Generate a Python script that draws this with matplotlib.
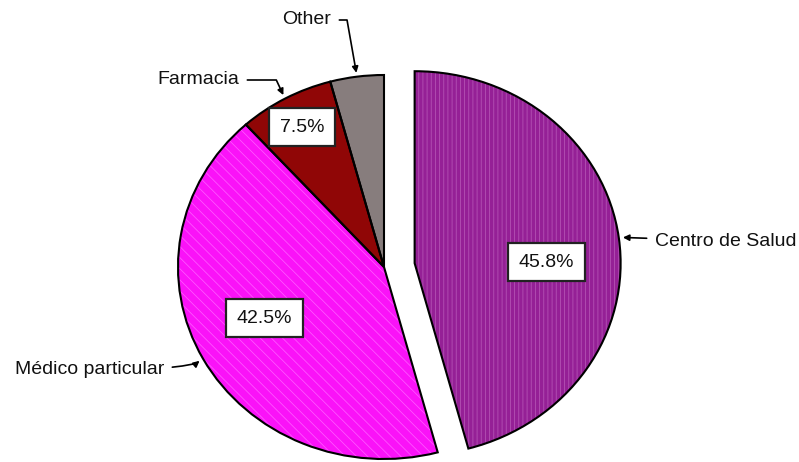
import numpy as np
import matplotlib
matplotlib.use("Agg")
import matplotlib.pyplot as plt

# ---- data ----
categories = ["Centro de Salud", "Médico particular", "Farmacia", "Other"]
values = [45.8, 42.5, 7.5, 4.2]
pct_labels = ["45.8%", "42.5%", "7.5%", ""]
explode = [0.15, 0, 0, 0]

# ---- style ----
colors = ["#952096", "#FA12F8", "#900606", "#877D7D"]
hatch_colors = ["#B452B4", "#FF55FF", "#A01818", "#958C8C"]
hatches = ["||||", "\\\\\\", "", ""]
pct_dist = [0.64, 0.64, 0.83, 0.65]
pct_angle_off = [-7, -4, 0, 0]

plt.rcParams["font.family"] = ["Liberation Sans", "DejaVu Sans"]
plt.rcParams["hatch.linewidth"] = 0.6

W, H, DPI = 799, 462, 100
fig = plt.figure(figsize=(W / DPI, H / DPI), dpi=DPI)
fig.patch.set_facecolor("white")
ax = fig.add_axes([0, 0, 1, 1])

# fill + texture
wedges, _ = ax.pie(values, explode=explode, colors=colors, startangle=90,
                   counterclock=False, wedgeprops=dict(linewidth=0))
for w, hc, hp in zip(wedges, hatch_colors, hatches):
    if hp:
        w.set_hatch(hp)
        w.set_edgecolor(hc)
        w.set_linewidth(0)
# outlines
outl, _ = ax.pie(values, explode=explode, startangle=90, counterclock=False,
                 wedgeprops=dict(fill=False, edgecolor="black", linewidth=1.5))

# elliptical pie: pixel scale per unit (x:206 px, y:192 px), center at (384, 267 from top)
cx, cy, sx, sy = 384, 267, 206, 192
ax.set_aspect("auto")
ax.set_xlim(-cx / sx, (W - cx) / sx)
ax.set_ylim(-(H - cy) / sy, cy / sy)
ax.axis("off")

fs = 14
for w, lab, d, off in zip(outl, pct_labels, pct_dist, pct_angle_off):
    if not lab:
        continue
    th = np.deg2rad((w.theta1 + w.theta2) / 2 + off)
    x = w.center[0] + d * np.cos(th)
    y = w.center[1] + d * np.sin(th)
    ax.text(x, y, lab, ha="center", va="center", fontsize=fs, color="#111111",
            bbox=dict(boxstyle="square,pad=0.55", facecolor="white",
                      edgecolor="#222222", linewidth=1.6), zorder=5)

# category annotations (text positions are layout)
text_pos = {
    "Centro de Salud": ((655 - cx) / sx, (cy - 241) / sy, "left"),
    "Médico particular": ((164 - cx) / sx, (cy - 370) / sy, "right"),
    "Farmacia": ((239 - cx) / sx, (cy - 80) / sy, "right"),
    "Other": ((331 - cx) / sx, (cy - 20) / sy, "right"),
}
conn = {
    "Centro de Salud": "arc3,rad=0",
    "Médico particular": "angle3,angleA=0,angleB=40",
    "Farmacia": "angle,angleA=0,angleB=115,rad=0",
    "Other": "angle,angleA=0,angleB=100,rad=0",
}
for w, cat in zip(outl, categories):
    th = np.deg2rad((w.theta1 + w.theta2) / 2)
    tip = (w.center[0] + 1.02 * np.cos(th), w.center[1] + 1.02 * np.sin(th))
    tx, ty, ha = text_pos[cat]
    ax.annotate(cat, xy=tip, xytext=(tx, ty), ha=ha, va="center", fontsize=fs,
                color="#111111",
                arrowprops=dict(arrowstyle="-|>", color="black", lw=1.2,
                                mutation_scale=9, shrinkA=4, shrinkB=0,
                                connectionstyle=conn[cat]))

fig.savefig("out.png", dpi=DPI, facecolor="white")
